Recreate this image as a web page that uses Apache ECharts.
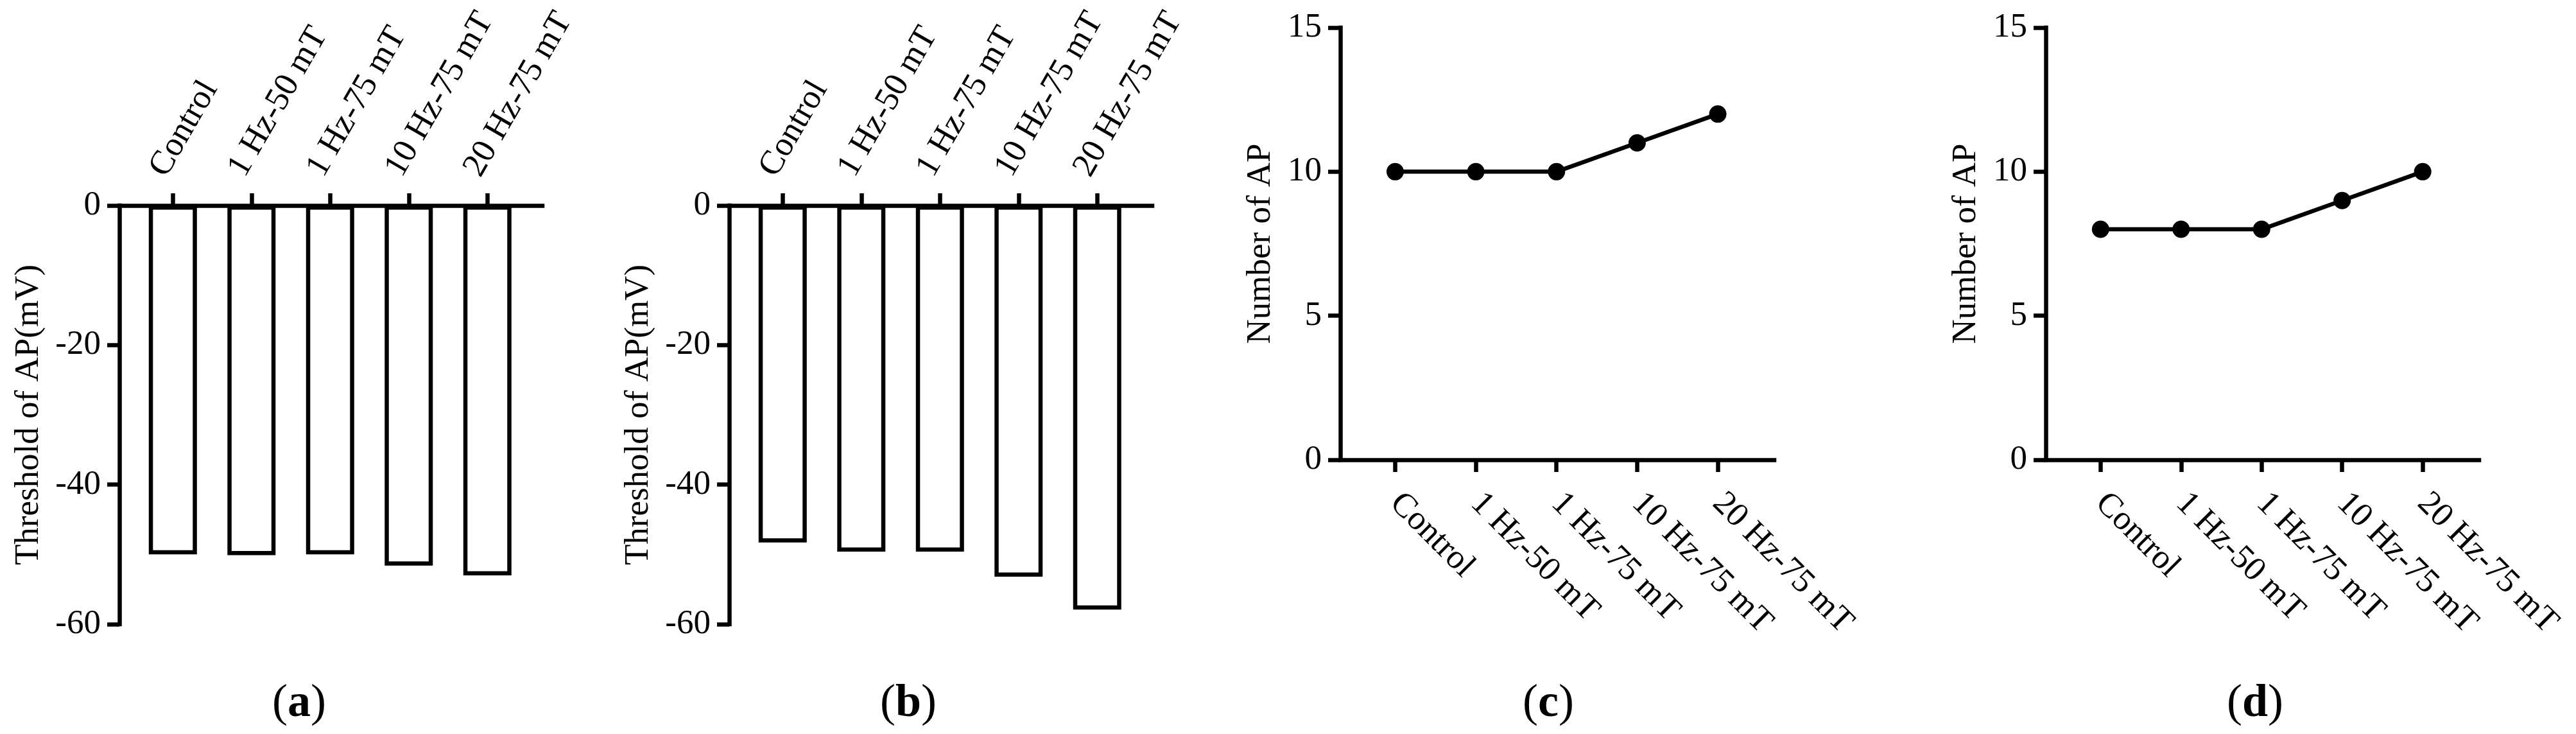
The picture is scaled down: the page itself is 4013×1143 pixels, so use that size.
<!DOCTYPE html>
<html>
<head>
<meta charset="utf-8">
<title>Threshold and number of AP</title>
<script src="https://cdn.jsdelivr.net/npm/echarts@6.0.0/dist/echarts.min.js"></script>
<style>
  html, body { margin: 0; padding: 0; background: #fff; }
  #main { width: 4013px; height: 1143px; }
</style>
</head>
<body>
<div id="main"></div>
<script>
// groups on the x axis, shared by all four panels
var groups = ['Control', '1 Hz-50 mT', '1 Hz-75 mT', '10 Hz-75 mT', '20 Hz-75 mT'];
var groupPos = [0, 1, 2, 3, 4];

// (a), (b): threshold of AP (mV)
var thresholdA = [-50, -50.1, -50, -51.6, -53];
var thresholdB = [-48.3, -49.6, -49.6, -53.2, -57.9];

// (c), (d): number of AP
var numberC = [10, 10, 10, 11, 12];
var numberD = [8, 8, 8, 9, 10];

var panelTags = ['a', 'b', 'c', 'd'];

var FONT = "'Liberation Serif', 'Times New Roman', serif";
var INK = '#000';
var LW = 6.5;
var FS = 53;

var myChart = echarts.init(document.getElementById('main'));

function pairs(vals) {
  return groupPos.map(function (p, i) { return [p, vals[i]]; });
}

function xAxisFor(gridIndex, onTop) {
  return {
    type: 'value',
    gridIndex: gridIndex,
    position: onTop ? 'top' : 'bottom',
    min: -0.68,
    max: 4.7,
    splitLine: { show: false },
    axisLine: { show: true, onZero: false, lineStyle: { color: INK, width: LW, cap: 'square' } },
    axisTick: { show: true, length: 19, customValues: groupPos, lineStyle: { color: INK, width: LW } },
    axisLabel: onTop ? {
      // top axis: text climbs up-right, steeper than the bottom ones
      customValues: groupPos,
      formatter: function (v) { return groups[Math.round(v)]; },
      rotate: -60,
      margin: 36,
      align: 'left',
      verticalAlign: 'bottom',
      color: INK, fontFamily: FONT, fontSize: FS
    } : {
      customValues: groupPos,
      formatter: function (v) { return groups[Math.round(v)]; },
      rotate: -45,
      margin: 60,
      align: 'left',
      verticalAlign: 'middle',
      color: INK, fontFamily: FONT, fontSize: FS
    }
  };
}

function yAxisFor(gridIndex, min, max, step, name, gap) {
  return {
    type: 'value',
    gridIndex: gridIndex,
    min: min,
    max: max,
    interval: step,
    name: name,
    nameLocation: 'middle',
    nameGap: gap,
    nameMoveOverlap: false,
    nameTextStyle: { color: INK, fontFamily: FONT, fontSize: FS },
    splitLine: { show: false },
    axisLine: { show: true, onZero: false, lineStyle: { color: INK, width: LW, cap: 'square' } },
    axisTick: { show: true, length: 19, lineStyle: { color: INK, width: LW } },
    axisLabel: { margin: 29, color: INK, fontFamily: FONT, fontSize: FS }
  };
}

function barSeries(idx, vals) {
  return {
    type: 'bar',
    xAxisIndex: idx,
    yAxisIndex: idx,
    data: pairs(vals),
    barWidth: 75,
    itemStyle: { color: '#fff', borderColor: INK, borderWidth: LW },
    silent: true,
    animation: false
  };
}

function lineSeries(idx, vals) {
  return {
    type: 'line',
    xAxisIndex: idx,
    yAxisIndex: idx,
    data: pairs(vals),
    symbol: 'circle',
    symbolSize: 27,
    itemStyle: { color: INK },
    lineStyle: { color: INK, width: LW },
    silent: true,
    animation: false
  };
}

var tagX = [466, 1415, 2412, 3513];
var titles = panelTags.map(function (t, i) {
  return {
    type: 'text',
    x: tagX[i],
    y: 1096,
    style: {
      text: '{p|(}{b|' + t + '}{p|)}',
      align: 'center',
      verticalAlign: 'middle',
      rich: {
        p: { fontFamily: FONT, fontSize: 72, fill: INK },
        b: { fontFamily: FONT, fontSize: 72, fontWeight: 'bold', fill: INK }
      }
    }
  };
});

var option = {
  backgroundColor: '#fff',
  animation: false,
  grid: [
    { left: 186, top: 320, width: 659, height: 652, outerBoundsMode: 'none', containLabel: false },
    { left: 1136, top: 320, width: 659, height: 652, outerBoundsMode: 'none', containLabel: false },
    { left: 2088, top: 43, width: 676, height: 673, outerBoundsMode: 'none', containLabel: false },
    { left: 3187, top: 43, width: 675, height: 673, outerBoundsMode: 'none', containLabel: false }
  ],
  xAxis: [xAxisFor(0, true), xAxisFor(1, true), xAxisFor(2, false), xAxisFor(3, false)],
  yAxis: [
    yAxisFor(0, -60, 0, 20, 'Threshold of AP(mV)', 114),
    yAxisFor(1, -60, 0, 20, 'Threshold of AP(mV)', 114),
    yAxisFor(2, 0, 15, 5, 'Number of AP', 97),
    yAxisFor(3, 0, 15, 5, 'Number of AP', 97)
  ],
  series: [
    barSeries(0, thresholdA),
    barSeries(1, thresholdB),
    lineSeries(2, numberC),
    lineSeries(3, numberD)
  ],
  graphic: titles
};

myChart.setOption(option);
</script>
</body>
</html>
